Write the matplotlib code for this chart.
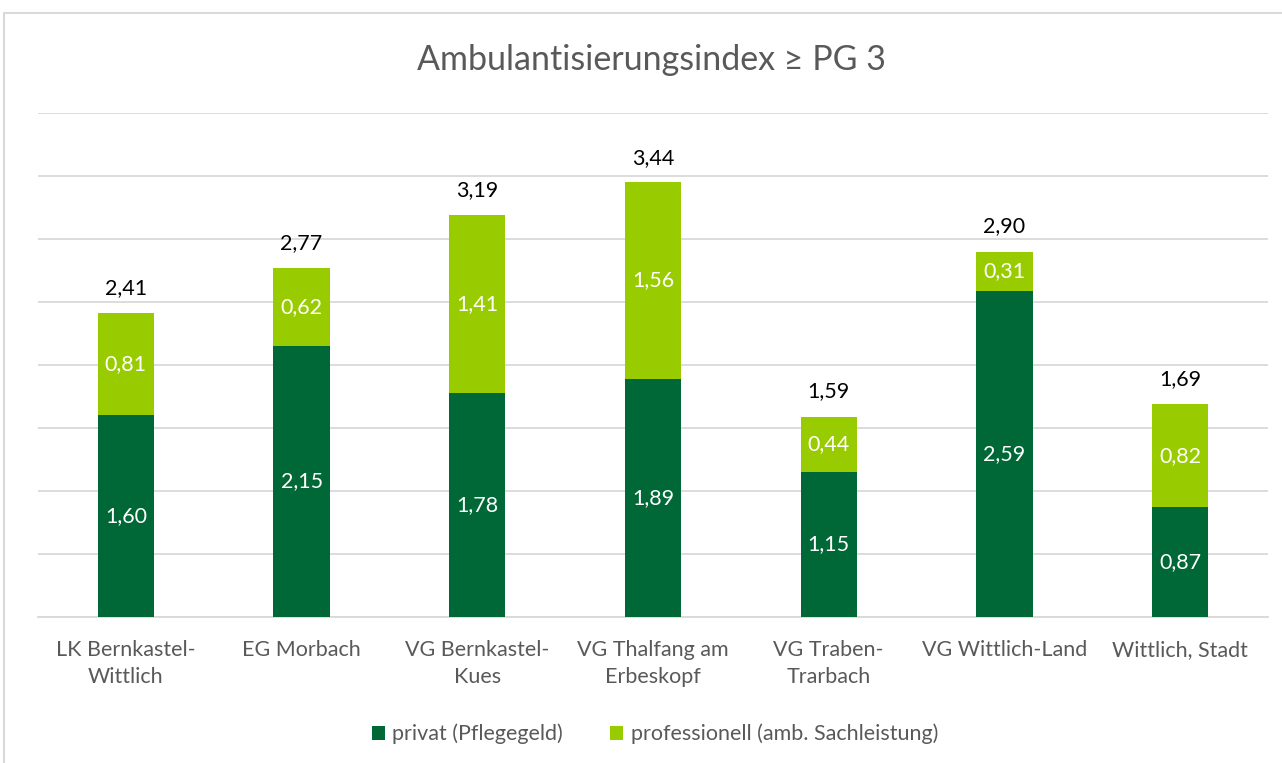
import matplotlib
matplotlib.use("Agg")
import matplotlib.pyplot as plt
from matplotlib.patches import Rectangle

categories = ["LK Bernkastel-\nWittlich", "EG Morbach", "VG Bernkastel-\nKues",
              "VG Thalfang am\nErbeskopf", "VG Traben-\nTrarbach", "VG Wittlich-Land",
              "Wittlich, Stadt"]
privat = [1.60, 2.15, 1.78, 1.89, 1.15, 2.59, 0.87]
professionell = [0.81, 0.62, 1.41, 1.56, 0.44, 0.31, 0.82]
totals = [2.41, 2.77, 3.19, 3.44, 1.59, 2.90, 1.69]
series_names = ["privat (Pflegegeld)", "professionell (amb. Sachleistung)"]

FONT = ["Lato", "DejaVu Sans"]
plt.rcParams['font.family'] = FONT

def fmt(v):
    return f"{v:.2f}".replace(".", ",")

fig = plt.figure(figsize=(12.82, 7.63), dpi=100)
fig.patches.append(Rectangle((4/1282, -0.01), 1.02, 1 - 13/763 + 0.01, transform=fig.transFigure,
                             fill=False, edgecolor="#d9d9d9", linewidth=1.5))
ax = fig.add_axes([38/1282, 1 - 617/763, (1268 - 38)/1282, (617 - 113)/763])

dark = "#006837"
light = "#99cc00"
x = range(len(categories))
w = 0.32
b1 = ax.bar(x, privat, width=w, color=dark, zorder=3, label=series_names[0])
b2 = ax.bar(x, professionell, width=w, bottom=privat, color=light, zorder=3, label=series_names[1])

for i in x:
    ax.text(i, privat[i] / 2, fmt(privat[i]), ha="center", va="center", color="white", fontsize=15.5)
    ax.text(i, privat[i] + professionell[i] / 2, fmt(professionell[i]), ha="center", va="center",
            color="white", fontsize=15.5)
    ax.text(i, totals[i] + 0.12, fmt(totals[i]), ha="center", va="bottom", color="black", fontsize=15.5)

ax.set_ylim(0, 4.0)
ax.set_xlim(-0.5, len(categories) - 0.5)
ax.set_yticks([0.5 * k for k in range(9)])
ax.yaxis.grid(True, color="#d9d9d9", linewidth=1.3, zorder=0)
ax.tick_params(axis="y", left=False, labelleft=False)
ax.tick_params(axis="x", bottom=False, labelsize=15.5, labelcolor="#595959", pad=13)
ax.set_xticks(list(x))
ax.set_xticklabels(categories, linespacing=1.45)
for s in ["top", "right", "left"]:
    ax.spines[s].set_visible(False)
ax.spines["bottom"].set_color("#d9d9d9")
ax.spines["bottom"].set_linewidth(1.3)

fig.text(651/1282, 1 - 60/763, "Ambulantisierungsindex ≥ PG 3", ha="center", va="center",
         fontsize=24.5, color="#595959")

leg = fig.legend(handles=[b1, b2], loc="center", bbox_to_anchor=(655/1282, 1 - 734/763), ncol=2,
                 frameon=False, fontsize=15.5, handlelength=0.6, handleheight=0.6,
                 handletextpad=0.35, columnspacing=2.2)
for t in leg.get_texts():
    t.set_color("#595959")

fig.savefig("out.png", dpi=100)
